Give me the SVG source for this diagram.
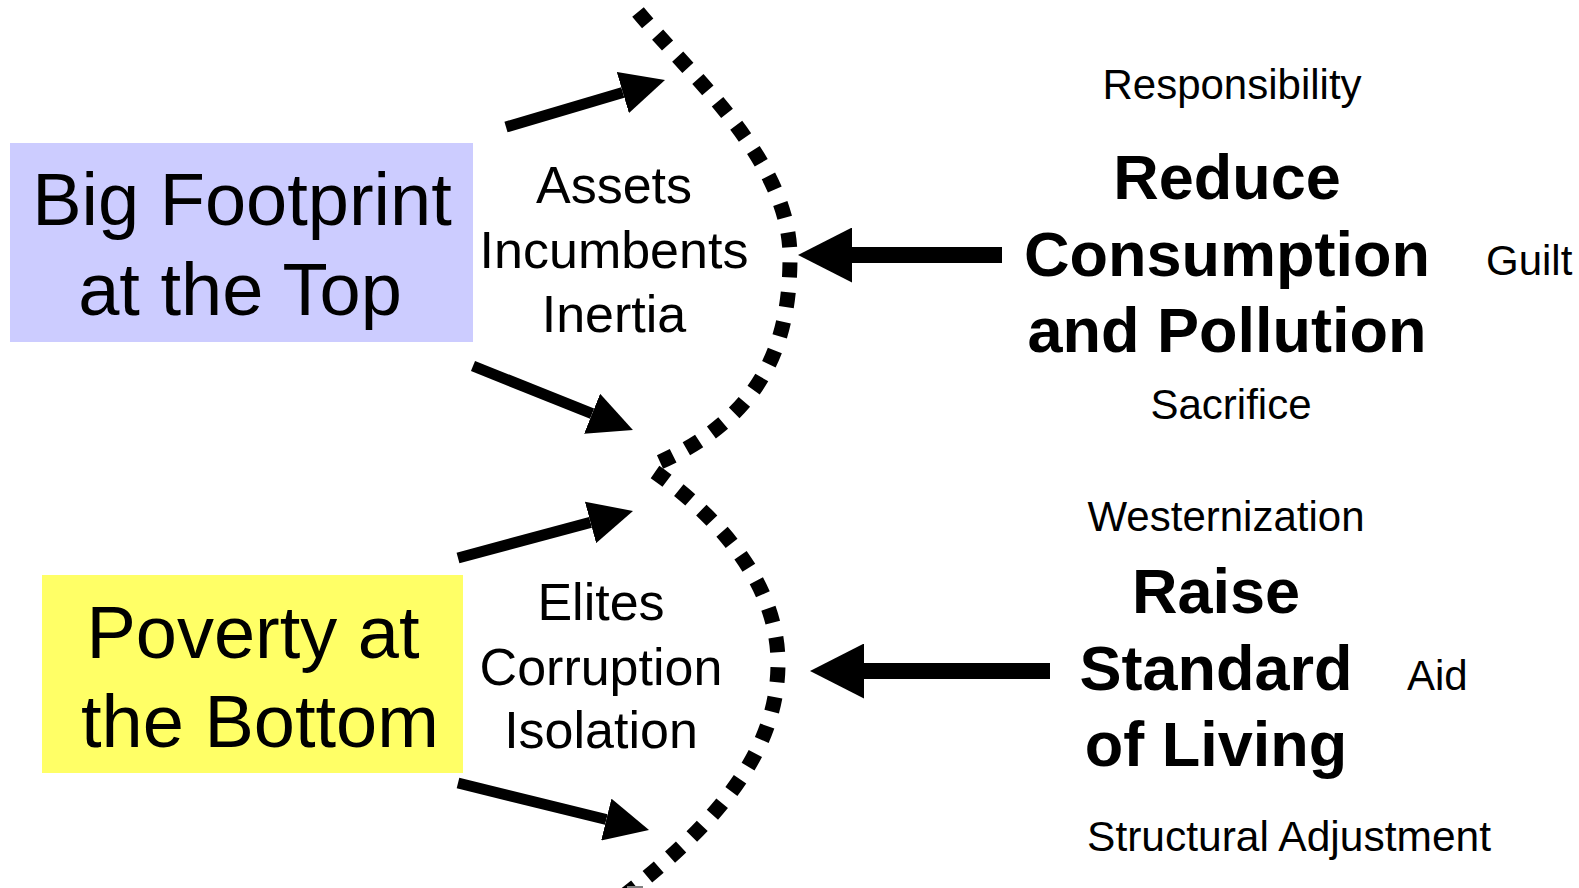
<svg xmlns="http://www.w3.org/2000/svg" width="1579" height="888" viewBox="0 0 1579 888">
  <style>
    text { font-family: "Liberation Sans", Arial, sans-serif; fill: #000; }
    .big { font-size: 74px; text-anchor: middle; }
    .mid { font-size: 52px; text-anchor: middle; }
    .bold { font-size: 63px; font-weight: bold; text-anchor: middle; }
    .small { font-size: 42px; text-anchor: middle; }
    .smalls { font-size: 42px; text-anchor: start; }
    .thin { stroke: #000; stroke-width: 11; fill: none; }
    .thick { stroke: #000; stroke-width: 16; fill: none; }
    .dots { stroke: #000; stroke-width: 15; fill: none; stroke-dasharray: 15 15; }
  </style>
  <defs>
    <marker id="headA" markerUnits="userSpaceOnUse" orient="auto" markerWidth="44" markerHeight="43" viewBox="0 0 44 43" refX="0" refY="21.5">
      <path d="M0,0 L44,21.5 L0,43 Z" fill="#000"/>
    </marker>
    <marker id="headB" markerUnits="userSpaceOnUse" orient="auto" markerWidth="54" markerHeight="55" viewBox="0 0 54 55" refX="0" refY="27.5">
      <path d="M0,0 L54,27.5 L0,55 Z" fill="#000"/>
    </marker>
  </defs>
  <rect width="1579" height="888" fill="#fff"/>

  <g id="node-big-footprint">
    <rect x="10" y="143" width="463" height="199" fill="#CCCCFF"/>
    <text class="big" x="242" y="225">Big Footprint</text>
    <text class="big" x="240" y="315">at the Top</text>
  </g>

  <g id="node-poverty">
    <rect x="42" y="575" width="421" height="198" fill="#FFFF66"/>
    <text class="big" x="253" y="658">Poverty at</text>
    <text class="big" x="260" y="747">the Bottom</text>
  </g>

  <g id="node-top-barriers">
    <text class="mid" x="614" y="203">Assets</text>
    <text class="mid" x="614" y="268">Incumbents</text>
    <text class="mid" x="614" y="332">Inertia</text>
  </g>

  <g id="node-bottom-barriers">
    <text class="mid" x="601" y="620">Elites</text>
    <text class="mid" x="601" y="685">Corruption</text>
    <text class="mid" x="601" y="748">Isolation</text>
  </g>

  <g id="node-reduce">
    <text class="small" x="1232" y="99">Responsibility</text>
    <text class="bold" x="1227" y="199">Reduce</text>
    <text class="bold" x="1227" y="276">Consumption</text>
    <text class="bold" x="1227" y="352">and Pollution</text>
    <text class="smalls" x="1486" y="275">Guilt</text>
    <text class="small" x="1231" y="419">Sacrifice</text>
  </g>

  <g id="node-raise">
    <text class="small" x="1226" y="531">Westernization</text>
    <text class="bold" x="1216" y="613">Raise</text>
    <text class="bold" x="1216" y="690">Standard</text>
    <text class="bold" x="1216" y="766">of Living</text>
    <text class="smalls" x="1407" y="690">Aid</text>
    <text class="small" x="1289" y="851" style="font-size:42.5px">Structural Adjustment</text>
  </g>

  <g id="barrier-lines">
    <path class="dots" d="M638,12 C690,75 790,160 790,257 C790,340 765,415 660,462"/>
    <path class="dots" d="M655,472 C695,500 778,570 778,663 C778,750 720,820 625,895"/>
    <rect x="627" y="886" width="16" height="2" fill="#808080"/>
  </g>

  <g id="connectors">
    <line class="thin" x1="506" y1="127" x2="622.8" y2="92.5" marker-end="url(#headA)"/>
    <line class="thin" x1="473" y1="366" x2="592.1" y2="413.7" marker-end="url(#headA)"/>
    <line class="thin" x1="458" y1="558" x2="590.5" y2="522.4" marker-end="url(#headA)"/>
    <line class="thin" x1="458" y1="783" x2="606.3" y2="819.5" marker-end="url(#headA)"/>
    <line class="thick" x1="1002" y1="255" x2="852" y2="255" marker-end="url(#headB)"/>
    <line class="thick" x1="1050" y1="671" x2="864" y2="671" marker-end="url(#headB)"/>
  </g>
</svg>
